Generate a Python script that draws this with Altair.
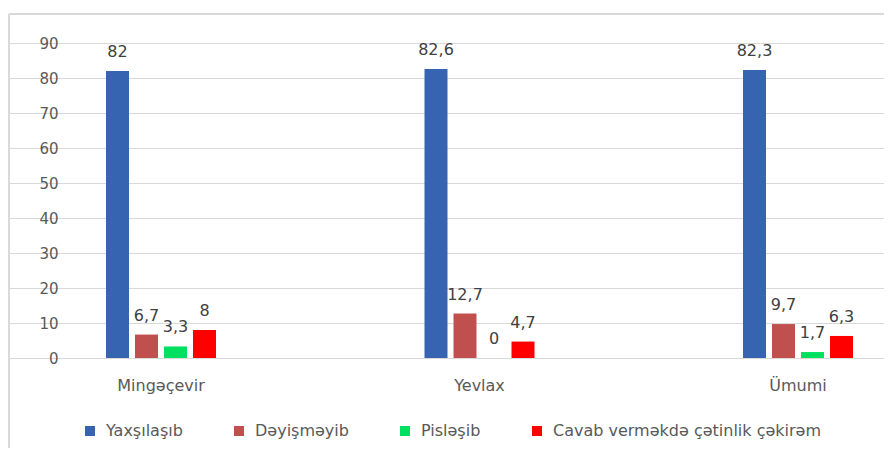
import altair as alt
import pandas as pd

categories = ["Mingəçevir", "Yevlax", "Ümumi"]
series = ["Yaxşılaşıb", "Dəyişməyib", "Pisləşib", "Cavab verməkdə çətinlik  çəkirəm"]
colors = ["#3764B0", "#C0504D", "#00E060", "#FF0000"]
values = {
    "Yaxşılaşıb": [82, 82.6, 82.3],
    "Dəyişməyib": [6.7, 12.7, 9.7],
    "Pisləşib": [3.3, 0, 1.7],
    "Cavab verməkdə çətinlik  çəkirəm": [8, 4.7, 6.3],
}
y_ticks = [0, 10, 20, 30, 40, 50, 60, 70, 80, 90]

rows = []
for s in series:
    for c, v in zip(categories, values[s]):
        rows.append({"cat": c, "ser": s, "val": v, "lbl": f"{v:g}".replace(".", ",")})
df = pd.DataFrame(rows)

x_enc = alt.X("cat:N", sort=categories, title=None,
              scale=alt.Scale(range=[-78.25, 877.25], paddingInner=0, paddingOuter=0),
              axis=alt.Axis(labelAngle=0, domain=False, ticks=False, labelFontSize=16,
                            labelFont="DejaVu Sans", labelColor="#595959", labelPadding=19))
xo_enc = alt.XOffset("ser:N", sort=series,
                     scale=alt.Scale(range=[104.25, 214.25], paddingInner=0.2069, paddingOuter=0))
y_enc = alt.Y("val:Q", title=None,
              scale=alt.Scale(domain=[0, 90], nice=False),
              axis=alt.Axis(values=y_ticks, domain=False, ticks=False, labelFontSize=15,
                            labelFont="DejaVu Sans", labelColor="#595959", labelPadding=22,
                            gridColor="#D9D9D9", gridWidth=1))

bars = alt.Chart(df).mark_bar().encode(
    x=x_enc, xOffset=xo_enc, y=y_enc,
    color=alt.Color("ser:N", sort=series, scale=alt.Scale(domain=series, range=colors),
                    legend=alt.Legend(title=None, orient="none", legendX=2, legendY=380,
                                      direction="horizontal", symbolType="square",
                                      symbolSize=100, symbolStrokeWidth=0, padding=0,
                                      labelOffset=8, columnPadding=48,
                                      labelFont="DejaVu Sans",
                                      labelFontSize=16, labelColor="#595959", labelLimit=400)),
)

labels = alt.Chart(df).mark_text(dy=-14, baseline="alphabetic", fontSize=16,
                                 font="DejaVu Sans", color="#404040").encode(
    x=x_enc, xOffset=xo_enc, y=y_enc, text="lbl:N"
)

border_top = alt.Chart(df).mark_rule(color="#D9D9D9", strokeWidth=2).encode(
    x=alt.value(-71), x2=alt.value(900), y=alt.value(-29)
)
border_left = alt.Chart(df).mark_rule(color="#D9D9D9", strokeWidth=2).encode(
    x=alt.value(-71), y=alt.value(-29), y2=alt.value(420)
)

chart = alt.layer(border_top, border_left, bars, labels).properties(
    width=800, height=315,
    autosize=alt.AutoSizeParams(type="none"),
    padding={"left": 72, "top": 35, "right": 4, "bottom": 90},
).configure_view(strokeWidth=0)

chart.save("out.html", embed_options={"renderer": "svg", "actions": False})
